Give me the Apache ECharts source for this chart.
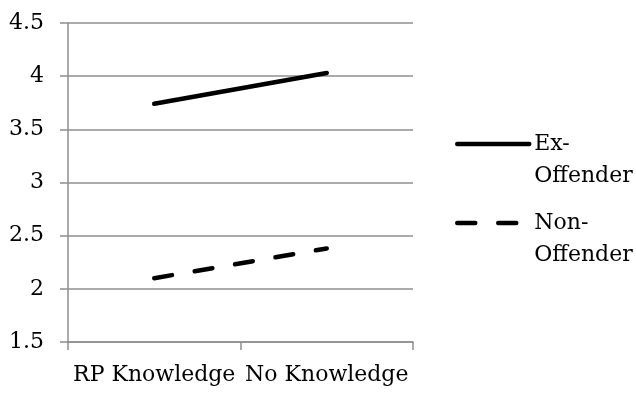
<!DOCTYPE html>
<html>
<head>
<meta charset="utf-8">
<script src="https://cdn.jsdelivr.net/npm/echarts@6/dist/echarts.min.js"></script>
<style>
  html, body { margin: 0; padding: 0; background: #fff; }
  #chart { width: 636px; height: 393px; }
</style>
</head>
<body>
<div id="chart"></div>
<script>
// Mean ratings by knowledge condition for each group
const categories = ['RP Knowledge', 'No Knowledge'];
const exOffender = [3.74, 4.03];
const nonOffender = [2.10, 2.38];
const seriesNames = ['Ex-\nOffender', 'Non-\nOffender'];
const yMin = 1.5, yMax = 4.5, yStep = 0.5;

const FONT = 'DejaVu Serif';
const GRID_COLOR = '#8f8f8f';
const LINE_WIDTH = 4.5;
const DASH = [18, 23];

const chart = echarts.init(document.getElementById('chart'), null, { renderer: 'canvas' });

// One legend per series so each entry can sit beside the first line of its label
function legendFor(name, top, dash) {
  return {
    data: [name],
    left: 455,
    top: top,
    orient: 'vertical',
    padding: 0,
    itemWidth: 72,
    itemHeight: 4,
    selectedMode: false,
    // blank first line keeps the marker level with the label's first line
    formatter: n => '\n' + n,
    itemStyle: { opacity: 0 },
    lineStyle: { color: '#000', width: LINE_WIDTH, cap: 'round', type: dash },
    textStyle: {
      fontFamily: FONT,
      fontSize: 22,
      color: '#000',
      lineHeight: 32
    }
  };
}

chart.setOption({
  animation: false,
  backgroundColor: '#fff',
  grid: { left: 68, right: 223, top: 23, bottom: 51, containLabel: false },
  legend: [
    legendFor(seriesNames[0], 96, 'solid'),
    legendFor(seriesNames[1], 175, DASH)
  ],
  xAxis: {
    type: 'category',
    data: categories,
    boundaryGap: true,
    axisLine: { lineStyle: { color: GRID_COLOR, width: 1.5 } },
    axisTick: { show: true, length: 8, alignWithLabel: false, lineStyle: { color: GRID_COLOR, width: 1.5 } },
    axisLabel: { fontFamily: FONT, fontSize: 22, color: '#000', margin: 22, interval: 0 },
    splitLine: { show: false }
  },
  yAxis: {
    type: 'value',
    min: yMin,
    max: yMax,
    interval: yStep,
    axisLine: { show: true, lineStyle: { color: GRID_COLOR, width: 1.5 } },
    axisTick: { show: true, length: 8, lineStyle: { color: GRID_COLOR, width: 1.5 } },
    axisLabel: { fontFamily: FONT, fontSize: 22, color: '#000', margin: 24 },
    splitLine: { show: true, lineStyle: { color: GRID_COLOR, width: 1.5 } }
  },
  series: [
    {
      name: seriesNames[0],
      type: 'line',
      data: exOffender,
      symbol: 'none',
      lineStyle: { color: '#000', width: LINE_WIDTH, cap: 'round', type: 'solid' },
      itemStyle: { color: '#000' }
    },
    {
      name: seriesNames[1],
      type: 'line',
      data: nonOffender,
      symbol: 'none',
      lineStyle: { color: '#000', width: LINE_WIDTH, cap: 'round', type: DASH },
      itemStyle: { color: '#000' }
    }
  ]
});
</script>
</body>
</html>
